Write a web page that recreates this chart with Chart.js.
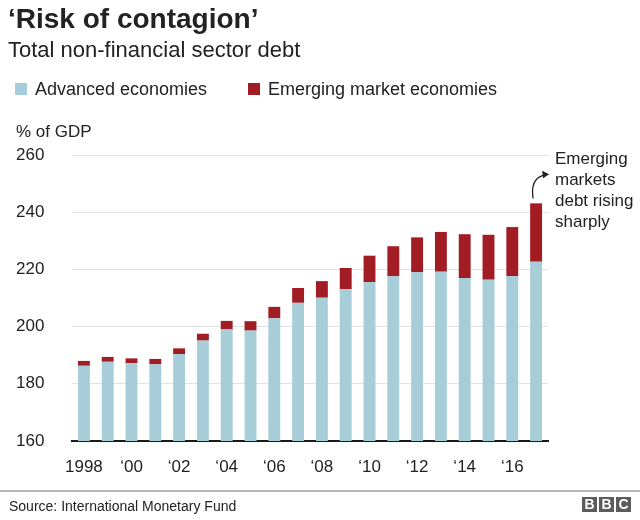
<!DOCTYPE html>
<html>
<head>
<meta charset="utf-8">
<script src="https://cdn.jsdelivr.net/npm/chart.js@4/dist/chart.umd.min.js"></script>
<style>
  html, body { margin: 0; padding: 0; background: #fff; }
  body { width: 640px; height: 520px; position: relative; overflow: hidden; font-family: "Liberation Sans", Arial, Helvetica, sans-serif; color: #222; }
  #wrap { position: absolute; left: 0; top: 0; width: 640px; height: 520px; }
  .t { position: absolute; white-space: nowrap; line-height: 1; }
  #title { left: 8px; top: 5px; font-size: 28px; font-weight: bold; color: #222; }
  #subtitle { left: 8px; top: 39px; font-size: 22px; color: #222; }
  .sw { position: absolute; width: 12px; height: 12px; top: 83px; }
  .lg { top: 80px; font-size: 18px; color: #222; }
  #unit { left: 16px; top: 123px; font-size: 17px; color: #222; }
  #note { left: 555px; top: 148px; font-size: 17px; line-height: 21px; color: #222; white-space: normal; width: 90px; }
  #rule { position: absolute; left: 0; top: 490px; width: 640px; height: 2px; background: #b5b5b5; }
  #source { left: 9px; top: 499px; font-size: 14px; color: #222; }
  .bbc { position: absolute; top: 497px; width: 15px; height: 15px; background: #5c5c5c; color: #fff; font-weight: bold; font-size: 14px; line-height: 15px; text-align: center; }
</style>
</head>
<body>
<div id="wrap"><canvas id="c" width="640" height="520"></canvas></div>
<div class="t" id="title">‘Risk of contagion’</div>
<div class="t" id="subtitle">Total non-financial sector debt</div>
<div class="sw" style="left:15px;background:#a7cdd9"></div>
<div class="t lg" style="left:35px">Advanced economies</div>
<div class="sw" style="left:248px;background:#a21c23"></div>
<div class="t lg" style="left:268px">Emerging market economies</div>
<div class="t" id="unit">% of GDP</div>
<div class="t" id="note">Emerging markets debt rising sharply</div>
<div id="rule"></div>
<div class="t" id="source">Source: International Monetary Fund</div>
<div class="bbc" style="left:582px">B</div>
<div class="bbc" style="left:599px">B</div>
<div class="bbc" style="left:616px">C</div>
<script>
const years = ['1998','1999','2000','2001','2002','2003','2004','2005','2006','2007','2008','2009','2010','2011','2012','2013','2014','2015','2016','2017'];
const tickLabels = ['1998','','‘00','','‘02','','‘04','','‘06','','‘08','','‘10','','‘12','','‘14','','‘16',''];
const advanced = [186.3,187.7,187.2,186.8,190.4,195.1,199.0,198.6,202.9,208.3,210.1,213.1,215.6,217.6,219.1,219.2,217.0,216.4,217.7,222.7];
const emerging = [1.7,1.7,1.7,1.9,2.0,2.4,3.0,3.3,4.0,5.2,5.8,7.4,9.2,10.5,12.1,13.9,15.3,15.7,17.1,20.4];
const yTicks = [160,180,200,220,240,260];

const arrowPlugin = {
  id: 'arrow',
  afterDatasetsDraw(chart) {
    const meta = chart.getDatasetMeta(1);
    const el = meta.data[meta.data.length - 1];
    if (!el) return;
    const ctx = chart.ctx;
    const x = el.x, y = el.y;
    const sx = x - 3, sy = y - 5;
    const ex = x + 9, ey = y - 28;
    ctx.save();
    ctx.strokeStyle = '#222';
    ctx.fillStyle = '#222';
    ctx.lineWidth = 1.3;
    ctx.beginPath();
    ctx.moveTo(sx, sy);
    ctx.quadraticCurveTo(x - 6, y - 24, ex - 2, ey);
    ctx.stroke();
    ctx.beginPath();
    ctx.moveTo(ex + 4, ey - 1);
    ctx.lineTo(ex - 3, ey - 4.5);
    ctx.lineTo(ex - 2, ey + 3);
    ctx.closePath();
    ctx.fill();
    ctx.restore();
  }
};

new Chart(document.getElementById('c'), {
  type: 'bar',
  data: {
    labels: years,
    datasets: [
      { label: 'Advanced economies', data: advanced, backgroundColor: '#a7cdd9', barPercentage: 0.5, categoryPercentage: 1.0 },
      { label: 'Emerging market economies', data: emerging, backgroundColor: '#a21c23', barPercentage: 0.5, categoryPercentage: 1.0 }
    ]
  },
  options: {
    responsive: false,
    animation: false,
    layout: { padding: { left: 16, right: 92, top: 155, bottom: 39 } },
    plugins: { legend: { display: false }, tooltip: { enabled: false }, title: { display: false } },
    scales: {
      x: {
        stacked: true,
        grid: { display: false, drawTicks: false },
        border: { display: true, color: '#1a1a1a', width: 2 },
        ticks: {
          autoSkip: false, maxRotation: 0, padding: 16,
          color: '#222',
          font: { family: '"Liberation Sans", Arial, sans-serif', size: 17 },
          callback: (v, i) => tickLabels[i]
        },
        afterFit(s) { s.height = 40; }
      },
      y: {
        stacked: true,
        min: 160, max: 260,
        grid: { color: '#e2e2e2', lineWidth: 1, drawTicks: false },
        border: { display: false },
        afterBuildTicks(s) { s.ticks = yTicks.map(v => ({ value: v })); },
        ticks: {
          color: '#222', crossAlign: 'far', padding: 0,
          font: { family: '"Liberation Sans", Arial, sans-serif', size: 17 }
        },
        afterFit(s) { s.width = 56; }
      }
    }
  },
  plugins: [arrowPlugin]
});
</script>
</body>
</html>
